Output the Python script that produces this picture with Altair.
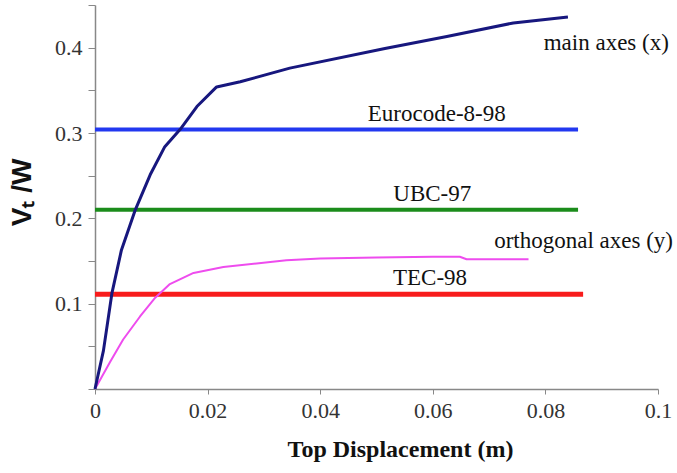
import altair as alt
import pandas as pd

# main axes (x) capacity curve
main_x = [0.0, 0.0015, 0.003, 0.0047, 0.0071, 0.0098, 0.0124, 0.0151, 0.0181, 0.0216, 0.0258, 0.0346, 0.0515, 0.0625, 0.0743, 0.084]
main_y = [0.0, 0.045, 0.112, 0.163, 0.209, 0.251, 0.284, 0.304, 0.331, 0.354, 0.360, 0.376, 0.399, 0.413, 0.429, 0.436]

# orthogonal axes (y) capacity curve
orth_x = [0.0, 0.0027, 0.005, 0.008, 0.0107, 0.0133, 0.0175, 0.0228, 0.0287, 0.034, 0.04, 0.05, 0.06, 0.0648, 0.066, 0.077]
orth_y = [0.0, 0.032, 0.058, 0.085, 0.107, 0.123, 0.136, 0.143, 0.147, 0.151, 0.153, 0.154, 0.155, 0.155, 0.152, 0.152]

# code base shear levels
code_names = ["Eurocode-8-98", "UBC-97", "TEC-98"]
code_levels = [0.304, 0.21, 0.111]
code_ends = [0.0858, 0.0858, 0.0867]

# annotation labels
label_text = ["main axes (x)", "Eurocode-8-98", "UBC-97", "orthogonal axes (y)", "TEC-98"]
label_x = [0.0797, 0.0607, 0.0599, 0.0709, 0.0595]
label_y = [0.405, 0.322, 0.229, 0.174, 0.130]
label_align = ["left", "center", "center", "left", "center"]

rows = []
for i, (x, y) in enumerate(zip(main_x, main_y)):
    rows.append({"s": "main", "x": x, "y": y, "o": i})
for i, (x, y) in enumerate(zip(orth_x, orth_y)):
    rows.append({"s": "orth", "x": x, "y": y, "o": i})
for n, lv, e in zip(code_names, code_levels, code_ends):
    rows.append({"s": n, "x": 0.0, "y": lv, "o": 0})
    rows.append({"s": n, "x": e, "y": lv, "o": 1})
df = pd.DataFrame(rows)

labels = pd.DataFrame({"t": label_text, "x": label_x, "y": label_y, "a": label_align})

x_ticks = [0.0, 0.02, 0.04, 0.06, 0.08, 0.1]
y_ticks = [0.0, 0.05, 0.1, 0.15, 0.2, 0.25, 0.3, 0.35, 0.4, 0.45]

xs = alt.Scale(domain=[0, 0.1], nice=False, zero=True)
ys = alt.Scale(domain=[0, 0.45], nice=False)

SERIF = "Times New Roman, Liberation Serif, serif"

xaxis = alt.Axis(
    values=x_ticks,
    labelExpr="datum.value == 0 ? '0' : (abs(datum.value - 0.1) < 1e-9 ? '0.1' : format(datum.value, '.2f'))",
    title="Top Displacement (m)",
    titleX=305,
    labelFont=SERIF, titleFont=SERIF,
)
yaxis = alt.Axis(
    values=y_ticks,
    labelExpr="(datum.value > 0 && abs(round(datum.value * 10) - datum.value * 10) < 1e-6) ? format(datum.value, '.1f') : ''",
    title="Vₜ /W",
    titleY=187,
    labelFont=SERIF,
)


def line_layer(name, color, width, interp="linear"):
    return alt.Chart(df).transform_filter(alt.datum.s == name).mark_line(
        color=color, strokeWidth=width, strokeCap="butt", strokeJoin="round", interpolate=interp
    ).encode(
        x=alt.X("x:Q", scale=xs, axis=xaxis),
        y=alt.Y("y:Q", scale=ys, axis=yaxis),
        order="o:Q",
    )


layers = [
    line_layer("Eurocode-8-98", "#2238f0", 4),
    line_layer("UBC-97", "#1b8c1b", 4),
    line_layer("TEC-98", "#f81c1c", 5),
    line_layer("orth", "#ee4cee", 2),
    line_layer("main", "#17177e", 3),
]

for al in ["left", "center"]:
    layers.append(
        alt.Chart(labels).transform_filter(alt.datum.a == al).mark_text(
            font=SERIF, fontSize=23, color="#111111", align=al, baseline="middle"
        ).encode(
            x=alt.X("x:Q", scale=xs, axis=xaxis),
            y=alt.Y("y:Q", scale=ys, axis=yaxis),
            text="t:N",
        )
    )

chart = alt.layer(*layers).properties(
    width=563, height=384,
    background="white",
    autosize=alt.AutoSizeParams(type="none"),
    padding={"left": 95, "top": 5, "right": 19, "bottom": 84},
).configure_view(
    strokeWidth=0, clip=False
).configure_axis(
    grid=False,
    labelFont=SERIF, labelFontSize=22, labelColor="#333333", labelPadding=6, labelFlush=False,
    titleFont=SERIF, titleFontWeight="bold", titleColor="#111111",
    domainColor="#888888", domainWidth=1.5, tickColor="#888888",
).configure_axisX(
    titleFontSize=24, titlePadding=16, tickSize=5,
).configure_axisY(
    titleFont="Liberation Sans", titleFontSize=28, titlePadding=18, tickSize=7,
)

chart.save("out.html", embed_options={"renderer": "svg", "actions": False})
